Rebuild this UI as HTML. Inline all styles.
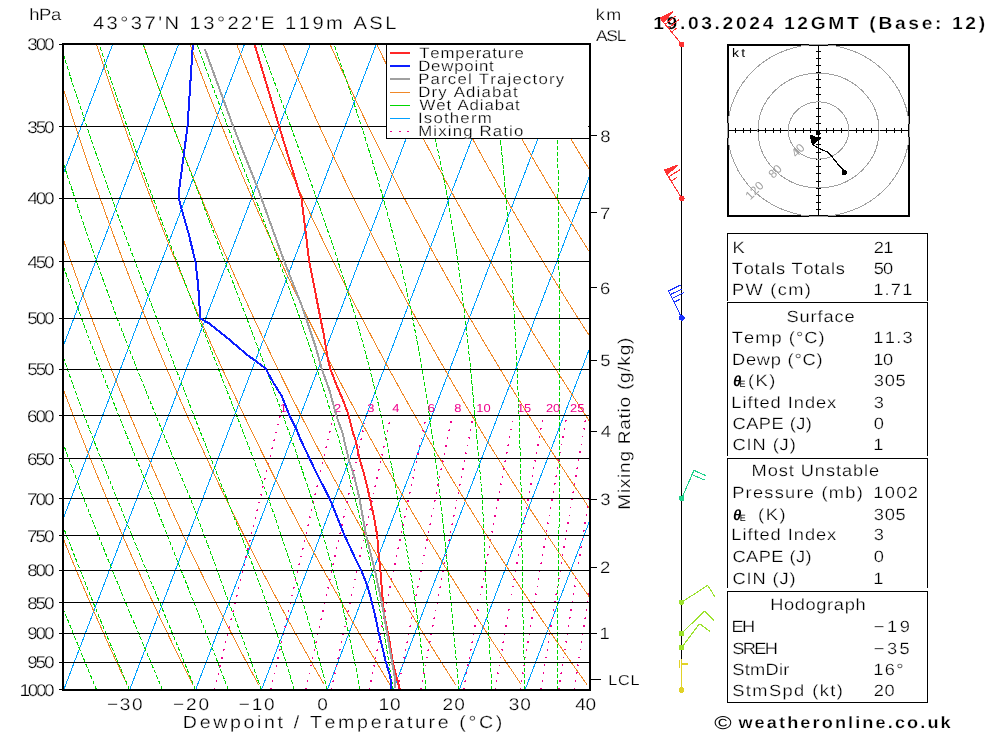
<!DOCTYPE html><html><head><meta charset="utf-8"><style>html,body{margin:0;padding:0;background:#fff;overflow:hidden}svg{display:block;font-kerning:none;text-rendering:geometricPrecision} text[fill="#000"]{stroke:#fff;stroke-width:0.25px}</style></head><body><svg width="1000" height="733" viewBox="0 0 1000 733" shape-rendering="crispEdges" font-family="'Liberation Sans', Arial, sans-serif">
<rect width="1000" height="733" fill="#fff"/>
<defs><clipPath id="pc"><rect x="63" y="44" width="527" height="646"/></clipPath></defs>
<g clip-path="url(#pc)" fill="none" shape-rendering="crispEdges">
<g stroke="#00A0FF" stroke-width="1">
<line x1="-397.6" y1="690" x2="-150.83" y2="44"/>
<line x1="-331.7" y1="690" x2="-84.93" y2="44"/>
<line x1="-265.8" y1="690" x2="-19.03" y2="44"/>
<line x1="-199.9" y1="690" x2="46.87" y2="44"/>
<line x1="-134" y1="690" x2="112.77" y2="44"/>
<line x1="-68.1" y1="690" x2="178.67" y2="44"/>
<line x1="-2.2" y1="690" x2="244.57" y2="44"/>
<line x1="63.7" y1="690" x2="310.47" y2="44"/>
<line x1="129.6" y1="690" x2="376.37" y2="44"/>
<line x1="195.5" y1="690" x2="442.27" y2="44"/>
<line x1="261.4" y1="690" x2="508.17" y2="44"/>
<line x1="327.3" y1="690" x2="574.07" y2="44"/>
<line x1="393.2" y1="690" x2="639.97" y2="44"/>
<line x1="459.1" y1="690" x2="705.87" y2="44"/>
<line x1="525" y1="690" x2="771.77" y2="44"/>
<line x1="590.9" y1="690" x2="837.67" y2="44"/>
</g>
<g stroke="#F08828" stroke-width="1">
<polyline points="-70.07,684.61 -72.05,679.16 -74.04,673.66 -76.04,668.1 -78.04,662.48 -80.06,656.8 -82.08,651.06 -84.11,645.26 -86.15,639.4 -88.2,633.47 -90.26,627.47 -92.33,621.41 -94.4,615.28 -96.49,609.07 -98.58,602.8 -100.69,596.45 -102.8,590.02 -104.93,583.52 -107.06,576.94 -109.21,570.27 -111.36,563.52 -113.53,556.69 -115.7,549.76 -117.88,542.75 -120.08,535.64 -122.29,528.44 -124.5,521.14 -126.73,513.74 -128.97,506.23 -131.22,498.62 -133.48,490.9 -135.75,483.07 -138.03,475.12 -140.32,467.05 -142.63,458.86 -144.94,450.54 -147.27,442.09 -149.61,433.51 -151.96,424.78 -154.33,415.91 -156.7,406.89 -159.09,397.72 -161.49,388.39 -163.9,378.89 -166.32,369.23 -168.76,359.38 -171.21,349.35 -173.67,339.13 -176.14,328.71 -178.62,318.09 -181.12,307.25 -183.63,296.18 -186.15,284.89 -188.68,273.35 -191.23,261.56 -193.78,249.5 -196.35,237.16 -198.93,224.54 -201.52,211.61 -204.11,198.36 -206.72,184.77 -209.34,170.84 -211.97,156.53 -214.6,141.83 -217.24,126.71 -219.89,111.16 -222.55,95.14 -225.2,78.63 -227.86,61.59 -230.52,44"/>
<polyline points="-4.36,684.61 -6.53,679.16 -8.71,673.66 -10.9,668.1 -13.1,662.48 -15.31,656.8 -17.53,651.06 -19.76,645.26 -22,639.4 -24.26,633.47 -26.52,627.47 -28.79,621.41 -31.08,615.28 -33.37,609.07 -35.68,602.8 -37.99,596.45 -40.32,590.02 -42.66,583.52 -45.02,576.94 -47.38,570.27 -49.76,563.52 -52.15,556.69 -54.55,549.76 -56.96,542.75 -59.38,535.64 -61.82,528.44 -64.27,521.14 -66.74,513.74 -69.22,506.23 -71.71,498.62 -74.21,490.9 -76.73,483.07 -79.26,475.12 -81.81,467.05 -84.37,458.86 -86.94,450.54 -89.53,442.09 -92.13,433.51 -94.75,424.78 -97.38,415.91 -100.03,406.89 -102.7,397.72 -105.38,388.39 -108.07,378.89 -110.78,369.23 -113.51,359.38 -116.25,349.35 -119.01,339.13 -121.78,328.71 -124.58,318.09 -127.38,307.25 -130.21,296.18 -133.05,284.89 -135.91,273.35 -138.78,261.56 -141.67,249.5 -144.58,237.16 -147.51,224.54 -150.45,211.61 -153.41,198.36 -156.38,184.77 -159.37,170.84 -162.38,156.53 -165.4,141.83 -168.44,126.71 -171.49,111.16 -174.55,95.14 -177.63,78.63 -180.72,61.59 -183.82,44"/>
<polyline points="61.35,684.61 58.99,679.16 56.62,673.66 54.23,668.1 51.84,662.48 49.43,656.8 47.01,651.06 44.58,645.26 42.14,639.4 39.69,633.47 37.22,627.47 34.74,621.41 32.25,615.28 29.75,609.07 27.23,602.8 24.7,596.45 22.16,590.02 19.6,583.52 17.03,576.94 14.44,570.27 11.85,563.52 9.23,556.69 6.61,549.76 3.97,542.75 1.31,535.64 -1.36,528.44 -4.05,521.14 -6.75,513.74 -9.47,506.23 -12.2,498.62 -14.95,490.9 -17.71,483.07 -20.49,475.12 -23.29,467.05 -26.11,458.86 -28.94,450.54 -31.79,442.09 -34.65,433.51 -37.54,424.78 -40.44,415.91 -43.36,406.89 -46.3,397.72 -49.26,388.39 -52.24,378.89 -55.24,369.23 -58.26,359.38 -61.29,349.35 -64.35,339.13 -67.43,328.71 -70.53,318.09 -73.65,307.25 -76.79,296.18 -79.95,284.89 -83.13,273.35 -86.34,261.56 -89.56,249.5 -92.81,237.16 -96.09,224.54 -99.38,211.61 -102.7,198.36 -106.04,184.77 -109.4,170.84 -112.79,156.53 -116.2,141.83 -119.63,126.71 -123.08,111.16 -126.56,95.14 -130.06,78.63 -133.57,61.59 -137.11,44"/>
<polyline points="127.06,684.61 124.51,679.16 121.95,673.66 119.37,668.1 116.78,662.48 114.18,656.8 111.56,651.06 108.93,645.26 106.29,639.4 103.63,633.47 100.96,627.47 98.28,621.41 95.58,615.28 92.86,609.07 90.14,602.8 87.39,596.45 84.64,590.02 81.86,583.52 79.07,576.94 76.27,570.27 73.45,563.52 70.61,556.69 67.76,549.76 64.89,542.75 62.01,535.64 59.1,528.44 56.18,521.14 53.24,513.74 50.29,506.23 47.31,498.62 44.32,490.9 41.31,483.07 38.28,475.12 35.23,467.05 32.16,458.86 29.07,450.54 25.96,442.09 22.82,433.51 19.67,424.78 16.5,415.91 13.31,406.89 10.09,397.72 6.85,388.39 3.59,378.89 0.3,369.23 -3,359.38 -6.34,349.35 -9.69,339.13 -13.07,328.71 -16.48,318.09 -19.91,307.25 -23.36,296.18 -26.85,284.89 -30.36,273.35 -33.89,261.56 -37.46,249.5 -41.05,237.16 -44.67,224.54 -48.31,211.61 -51.99,198.36 -55.7,184.77 -59.43,170.84 -63.2,156.53 -67,141.83 -70.82,126.71 -74.68,111.16 -78.57,95.14 -82.48,78.63 -86.43,61.59 -90.41,44"/>
<polyline points="192.77,684.61 190.03,679.16 187.27,673.66 184.5,668.1 181.72,662.48 178.92,656.8 176.11,651.06 173.28,645.26 170.43,639.4 167.58,633.47 164.7,627.47 161.81,621.41 158.9,615.28 155.98,609.07 153.04,602.8 150.09,596.45 147.12,590.02 144.13,583.52 141.12,576.94 138.1,570.27 135.05,563.52 131.99,556.69 128.91,549.76 125.82,542.75 122.7,535.64 119.56,528.44 116.41,521.14 113.23,513.74 110.04,506.23 106.82,498.62 103.58,490.9 100.32,483.07 97.04,475.12 93.74,467.05 90.42,458.86 87.07,450.54 83.7,442.09 80.3,433.51 76.89,424.78 73.44,415.91 69.98,406.89 66.48,397.72 62.96,388.39 59.42,378.89 55.85,369.23 52.25,359.38 48.62,349.35 44.97,339.13 41.29,328.71 37.57,318.09 33.83,307.25 30.06,296.18 26.25,284.89 22.42,273.35 18.55,261.56 14.65,249.5 10.72,237.16 6.75,224.54 2.75,211.61 -1.28,198.36 -5.36,184.77 -9.46,170.84 -13.61,156.53 -17.79,141.83 -22.01,126.71 -26.27,111.16 -30.57,95.14 -34.91,78.63 -39.29,61.59 -43.71,44"/>
<polyline points="258.48,684.61 255.55,679.16 252.6,673.66 249.64,668.1 246.66,662.48 243.66,656.8 240.65,651.06 237.62,645.26 234.58,639.4 231.52,633.47 228.44,627.47 225.34,621.41 222.23,615.28 219.1,609.07 215.95,602.8 212.78,596.45 209.6,590.02 206.39,583.52 203.17,576.94 199.92,570.27 196.66,563.52 193.37,556.69 190.07,549.76 186.74,542.75 183.4,535.64 180.03,528.44 176.64,521.14 173.22,513.74 169.79,506.23 166.33,498.62 162.85,490.9 159.34,483.07 155.81,475.12 152.26,467.05 148.68,458.86 145.07,450.54 141.44,442.09 137.78,433.51 134.1,424.78 130.39,415.91 126.64,406.89 122.88,397.72 119.08,388.39 115.25,378.89 111.39,369.23 107.5,359.38 103.58,349.35 99.63,339.13 95.64,328.71 91.62,318.09 87.57,307.25 83.48,296.18 79.36,284.89 75.2,273.35 71,261.56 66.76,249.5 62.49,237.16 58.17,224.54 53.82,211.61 49.42,198.36 44.99,184.77 40.51,170.84 35.98,156.53 31.41,141.83 26.79,126.71 22.13,111.16 17.42,95.14 12.66,78.63 7.85,61.59 3,44"/>
<polyline points="324.19,684.61 321.07,679.16 317.93,673.66 314.77,668.1 311.6,662.48 308.41,656.8 305.2,651.06 301.97,645.26 298.73,639.4 295.46,633.47 292.18,627.47 288.88,621.41 285.56,615.28 282.22,609.07 278.86,602.8 275.48,596.45 272.08,590.02 268.65,583.52 265.21,576.94 261.75,570.27 258.26,563.52 254.75,556.69 251.22,549.76 247.67,542.75 244.09,535.64 240.49,528.44 236.86,521.14 233.21,513.74 229.54,506.23 225.84,498.62 222.11,490.9 218.36,483.07 214.58,475.12 210.77,467.05 206.94,458.86 203.08,450.54 199.18,442.09 195.26,433.51 191.31,424.78 187.33,415.91 183.31,406.89 179.27,397.72 175.19,388.39 171.08,378.89 166.93,369.23 162.75,359.38 158.54,349.35 154.29,339.13 150,328.71 145.67,318.09 141.31,307.25 136.9,296.18 132.46,284.89 127.97,273.35 123.44,261.56 118.87,249.5 114.26,237.16 109.59,224.54 104.89,211.61 100.13,198.36 95.33,184.77 90.47,170.84 85.57,156.53 80.61,141.83 75.6,126.71 70.54,111.16 65.41,95.14 60.24,78.63 55,61.59 49.7,44"/>
<polyline points="389.9,684.61 386.59,679.16 383.26,673.66 379.91,668.1 376.54,662.48 373.15,656.8 369.75,651.06 366.32,645.26 362.87,639.4 359.41,633.47 355.92,627.47 352.41,621.41 348.89,615.28 345.34,609.07 341.76,602.8 338.17,596.45 334.56,590.02 330.92,583.52 327.26,576.94 323.57,570.27 319.86,563.52 316.13,556.69 312.38,549.76 308.59,542.75 304.79,535.64 300.95,528.44 297.09,521.14 293.2,513.74 289.29,506.23 285.35,498.62 281.38,490.9 277.38,483.07 273.35,475.12 269.29,467.05 265.2,458.86 261.08,450.54 256.93,442.09 252.74,433.51 248.52,424.78 244.27,415.91 239.98,406.89 235.66,397.72 231.3,388.39 226.91,378.89 222.48,369.23 218.01,359.38 213.5,349.35 208.95,339.13 204.35,328.71 199.72,318.09 195.04,307.25 190.32,296.18 185.56,284.89 180.75,273.35 175.89,261.56 170.98,249.5 166.02,237.16 161.01,224.54 155.95,211.61 150.84,198.36 145.67,184.77 140.44,170.84 135.16,156.53 129.82,141.83 124.41,126.71 118.94,111.16 113.41,95.14 107.81,78.63 102.14,61.59 96.4,44"/>
<polyline points="455.62,684.61 452.11,679.16 448.59,673.66 445.04,668.1 441.48,662.48 437.9,656.8 434.29,651.06 430.67,645.26 427.02,639.4 423.35,633.47 419.66,627.47 415.95,621.41 412.21,615.28 408.45,609.07 404.67,602.8 400.87,596.45 397.04,590.02 393.18,583.52 389.3,576.94 385.4,570.27 381.47,563.52 377.51,556.69 373.53,549.76 369.52,542.75 365.48,535.64 361.41,528.44 357.32,521.14 353.19,513.74 349.04,506.23 344.86,498.62 340.64,490.9 336.4,483.07 332.12,475.12 327.81,467.05 323.46,458.86 319.08,450.54 314.67,442.09 310.22,433.51 305.73,424.78 301.21,415.91 296.65,406.89 292.05,397.72 287.42,388.39 282.74,378.89 278.02,369.23 273.26,359.38 268.45,349.35 263.6,339.13 258.71,328.71 253.77,318.09 248.78,307.25 243.75,296.18 238.66,284.89 233.52,273.35 228.33,261.56 223.09,249.5 217.79,237.16 212.44,224.54 207.02,211.61 201.55,198.36 196.01,184.77 190.41,170.84 184.75,156.53 179.02,141.83 173.22,126.71 167.35,111.16 161.4,95.14 155.38,78.63 149.28,61.59 143.1,44"/>
<polyline points="521.33,684.61 517.63,679.16 513.92,673.66 510.18,668.1 506.42,662.48 502.64,656.8 498.84,651.06 495.01,645.26 491.17,639.4 487.29,633.47 483.4,627.47 479.48,621.41 475.54,615.28 471.57,609.07 467.58,602.8 463.56,596.45 459.52,590.02 455.45,583.52 451.35,576.94 447.22,570.27 443.07,563.52 438.89,556.69 434.68,549.76 430.44,542.75 426.18,535.64 421.88,528.44 417.55,521.14 413.19,513.74 408.79,506.23 404.37,498.62 399.91,490.9 395.41,483.07 390.88,475.12 386.32,467.05 381.72,458.86 377.09,450.54 372.41,442.09 367.7,433.51 362.95,424.78 358.16,415.91 353.32,406.89 348.45,397.72 343.53,388.39 338.57,378.89 333.56,369.23 328.51,359.38 323.41,349.35 318.26,339.13 313.07,328.71 307.82,318.09 302.52,307.25 297.17,296.18 291.76,284.89 286.3,273.35 280.78,261.56 275.2,249.5 269.56,237.16 263.86,224.54 258.09,211.61 252.26,198.36 246.35,184.77 240.38,170.84 234.34,156.53 228.22,141.83 222.03,126.71 215.75,111.16 209.39,95.14 202.95,78.63 196.43,61.59 189.81,44"/>
<polyline points="587.04,684.61 583.15,679.16 579.24,673.66 575.31,668.1 571.36,662.48 567.38,656.8 563.38,651.06 559.36,645.26 555.31,639.4 551.24,633.47 547.14,627.47 543.02,621.41 538.87,615.28 534.69,609.07 530.49,602.8 526.26,596.45 522,590.02 517.71,583.52 513.39,576.94 509.05,570.27 504.68,563.52 500.27,556.69 495.84,549.76 491.37,542.75 486.87,535.64 482.34,528.44 477.77,521.14 473.18,513.74 468.54,506.23 463.88,498.62 459.17,490.9 454.43,483.07 449.65,475.12 444.84,467.05 439.98,458.86 435.09,450.54 430.15,442.09 425.18,433.51 420.16,424.78 415.1,415.91 409.99,406.89 404.84,397.72 399.64,388.39 394.4,378.89 389.11,369.23 383.76,359.38 378.37,349.35 372.92,339.13 367.42,328.71 361.87,318.09 356.26,307.25 350.59,296.18 344.86,284.89 339.07,273.35 333.22,261.56 327.31,249.5 321.33,237.16 315.28,224.54 309.16,211.61 302.96,198.36 296.7,184.77 290.35,170.84 283.93,156.53 277.42,141.83 270.83,126.71 264.16,111.16 257.39,95.14 250.53,78.63 243.57,61.59 236.51,44"/>
<polyline points="652.75,684.61 648.67,679.16 644.57,673.66 640.45,668.1 636.3,662.48 632.13,656.8 627.93,651.06 623.71,645.26 619.46,639.4 615.18,633.47 610.88,627.47 606.55,621.41 602.19,615.28 597.81,609.07 593.39,602.8 588.95,596.45 584.48,590.02 579.97,583.52 575.44,576.94 570.88,570.27 566.28,563.52 561.65,556.69 556.99,549.76 552.29,542.75 547.57,535.64 542.8,528.44 538,521.14 533.17,513.74 528.29,506.23 523.38,498.62 518.44,490.9 513.45,483.07 508.42,475.12 503.35,467.05 498.24,458.86 493.09,450.54 487.9,442.09 482.66,433.51 477.37,424.78 472.04,415.91 466.66,406.89 461.23,397.72 455.76,388.39 450.23,378.89 444.65,369.23 439.01,359.38 433.33,349.35 427.58,339.13 421.78,328.71 415.92,318.09 410,307.25 404.01,296.18 397.96,284.89 391.85,273.35 385.67,261.56 379.42,249.5 373.09,237.16 366.7,224.54 360.22,211.61 353.67,198.36 347.04,184.77 340.32,170.84 333.52,156.53 326.63,141.83 319.64,126.71 312.56,111.16 305.38,95.14 298.1,78.63 290.71,61.59 283.21,44"/>
<polyline points="718.46,684.61 714.19,679.16 709.9,673.66 705.58,668.1 701.24,662.48 696.87,656.8 692.48,651.06 688.05,645.26 683.6,639.4 679.13,633.47 674.62,627.47 670.08,621.41 665.52,615.28 660.92,609.07 656.3,602.8 651.64,596.45 646.96,590.02 642.24,583.52 637.49,576.94 632.7,570.27 627.88,563.52 623.03,556.69 618.14,549.76 613.22,542.75 608.26,535.64 603.26,528.44 598.23,521.14 593.16,513.74 588.05,506.23 582.89,498.62 577.7,490.9 572.47,483.07 567.19,475.12 561.87,467.05 556.51,458.86 551.1,450.54 545.64,442.09 540.14,433.51 534.58,424.78 528.98,415.91 523.33,406.89 517.63,397.72 511.87,388.39 506.06,378.89 500.19,369.23 494.27,359.38 488.28,349.35 482.24,339.13 476.14,328.71 469.97,318.09 463.73,307.25 457.43,296.18 451.07,284.89 444.63,273.35 438.11,261.56 431.53,249.5 424.86,237.16 418.12,224.54 411.29,211.61 404.38,198.36 397.38,184.77 390.29,170.84 383.11,156.53 375.83,141.83 368.45,126.71 360.97,111.16 353.37,95.14 345.67,78.63 337.85,61.59 329.91,44"/>
<polyline points="784.17,684.61 779.71,679.16 775.23,673.66 770.72,668.1 766.18,662.48 761.62,656.8 757.02,651.06 752.4,645.26 747.75,639.4 743.07,633.47 738.36,627.47 733.62,621.41 728.85,615.28 724.04,609.07 719.21,602.8 714.34,596.45 709.44,590.02 704.5,583.52 699.53,576.94 694.53,570.27 689.49,563.52 684.41,556.69 679.3,549.76 674.15,542.75 668.96,535.64 663.73,528.44 658.46,521.14 653.15,513.74 647.8,506.23 642.4,498.62 636.97,490.9 631.48,483.07 625.96,475.12 620.39,467.05 614.77,458.86 609.1,450.54 603.38,442.09 597.61,433.51 591.8,424.78 585.93,415.91 580,406.89 574.02,397.72 567.98,388.39 561.89,378.89 555.73,369.23 549.52,359.38 543.24,349.35 536.9,339.13 530.49,328.71 524.02,318.09 517.47,307.25 510.86,296.18 504.17,284.89 497.4,273.35 490.56,261.56 483.63,249.5 476.63,237.16 469.54,224.54 462.36,211.61 455.09,198.36 447.72,184.77 440.26,170.84 432.7,156.53 425.03,141.83 417.26,126.71 409.37,111.16 401.37,95.14 393.24,78.63 385,61.59 376.62,44"/>
<polyline points="849.88,684.61 845.23,679.16 840.56,673.66 835.85,668.1 831.12,662.48 826.36,656.8 821.57,651.06 816.75,645.26 811.9,639.4 807.01,633.47 802.1,627.47 797.15,621.41 792.17,615.28 787.16,609.07 782.11,602.8 777.03,596.45 771.92,590.02 766.77,583.52 761.58,576.94 756.35,570.27 751.09,563.52 745.79,556.69 740.45,549.76 735.07,542.75 729.65,535.64 724.19,528.44 718.68,521.14 713.14,513.74 707.55,506.23 701.91,498.62 696.23,490.9 690.5,483.07 684.73,475.12 678.9,467.05 673.03,458.86 667.1,450.54 661.12,442.09 655.09,433.51 649.01,424.78 642.87,415.91 636.67,406.89 630.41,397.72 624.1,388.39 617.72,378.89 611.28,369.23 604.77,359.38 598.2,349.35 591.56,339.13 584.85,328.71 578.07,318.09 571.21,307.25 564.28,296.18 557.27,284.89 550.18,273.35 543,261.56 535.74,249.5 528.4,237.16 520.96,224.54 513.42,211.61 505.79,198.36 498.06,184.77 490.23,170.84 482.29,156.53 474.23,141.83 466.06,126.71 457.77,111.16 449.36,95.14 440.82,78.63 432.14,61.59 423.32,44"/>
<polyline points="915.59,684.61 910.75,679.16 905.89,673.66 900.99,668.1 896.06,662.48 891.1,656.8 886.12,651.06 881.1,645.26 876.04,639.4 870.96,633.47 865.84,627.47 860.69,621.41 855.5,615.28 850.28,609.07 845.02,602.8 839.73,596.45 834.4,590.02 829.03,583.52 823.62,576.94 818.18,570.27 812.69,563.52 807.17,556.69 801.6,549.76 796,542.75 790.35,535.64 784.65,528.44 778.91,521.14 773.13,513.74 767.3,506.23 761.42,498.62 755.49,490.9 749.52,483.07 743.49,475.12 737.42,467.05 731.29,458.86 725.11,450.54 718.87,442.09 712.57,433.51 706.22,424.78 699.81,415.91 693.34,406.89 686.81,397.72 680.21,388.39 673.55,378.89 666.82,369.23 660.02,359.38 653.16,349.35 646.22,339.13 639.21,328.71 632.12,318.09 624.95,307.25 617.7,296.18 610.37,284.89 602.95,273.35 595.45,261.56 587.85,249.5 580.16,237.16 572.38,224.54 564.49,211.61 556.5,198.36 548.41,184.77 540.2,170.84 531.88,156.53 523.44,141.83 514.87,126.71 506.18,111.16 497.35,95.14 488.39,78.63 479.28,61.59 470.02,44"/>
<polyline points="981.3,684.61 976.27,679.16 971.21,673.66 966.12,668.1 961,662.48 955.85,656.8 950.66,651.06 945.44,645.26 940.19,639.4 934.9,633.47 929.58,627.47 924.22,621.41 918.83,615.28 913.4,609.07 907.93,602.8 902.42,596.45 896.88,590.02 891.29,583.52 885.67,576.94 880,570.27 874.3,563.52 868.55,556.69 862.76,549.76 856.92,542.75 851.04,535.64 845.11,528.44 839.14,521.14 833.12,513.74 827.05,506.23 820.93,498.62 814.76,490.9 808.54,483.07 802.26,475.12 795.93,467.05 789.55,458.86 783.11,450.54 776.61,442.09 770.05,433.51 763.43,424.78 756.75,415.91 750.01,406.89 743.2,397.72 736.32,388.39 729.38,378.89 722.36,369.23 715.28,359.38 708.11,349.35 700.88,339.13 693.56,328.71 686.17,318.09 678.69,307.25 671.12,296.18 663.47,284.89 655.73,273.35 647.89,261.56 639.96,249.5 631.93,237.16 623.8,224.54 615.56,211.61 607.21,198.36 598.75,184.77 590.17,170.84 581.47,156.53 572.64,141.83 563.68,126.71 554.58,111.16 545.35,95.14 535.96,78.63 526.42,61.59 516.73,44"/>
<polyline points="1047.01,684.61 1041.79,679.16 1036.54,673.66 1031.26,668.1 1025.94,662.48 1020.59,656.8 1015.21,651.06 1009.79,645.26 1004.34,639.4 998.85,633.47 993.32,627.47 987.76,621.41 982.15,615.28 976.51,609.07 970.84,602.8 965.12,596.45 959.36,590.02 953.56,583.52 947.72,576.94 941.83,570.27 935.9,563.52 929.93,556.69 923.91,549.76 917.85,542.75 911.74,535.64 905.58,528.44 899.37,521.14 893.11,513.74 886.8,506.23 880.44,498.62 874.02,490.9 867.56,483.07 861.03,475.12 854.45,467.05 847.81,458.86 841.11,450.54 834.35,442.09 827.53,433.51 820.65,424.78 813.7,415.91 806.68,406.89 799.59,397.72 792.44,388.39 785.21,378.89 777.91,369.23 770.53,359.38 763.07,349.35 755.54,339.13 747.92,328.71 740.21,318.09 732.42,307.25 724.54,296.18 716.57,284.89 708.5,273.35 700.34,261.56 692.07,249.5 683.7,237.16 675.22,224.54 666.63,211.61 657.92,198.36 649.09,184.77 640.14,170.84 631.06,156.53 621.84,141.83 612.49,126.71 602.99,111.16 593.34,95.14 583.54,78.63 573.57,61.59 563.43,44"/>
<polyline points="1112.72,684.61 1107.31,679.16 1101.87,673.66 1096.39,668.1 1090.88,662.48 1085.34,656.8 1079.75,651.06 1074.14,645.26 1068.48,639.4 1062.79,633.47 1057.06,627.47 1051.29,621.41 1045.48,615.28 1039.63,609.07 1033.74,602.8 1027.81,596.45 1021.84,590.02 1015.82,583.52 1009.76,576.94 1003.66,570.27 997.51,563.52 991.31,556.69 985.06,549.76 978.77,542.75 972.43,535.64 966.04,528.44 959.6,521.14 953.1,513.74 946.55,506.23 939.95,498.62 933.29,490.9 926.57,483.07 919.8,475.12 912.97,467.05 906.07,458.86 899.12,450.54 892.1,442.09 885.01,433.51 877.86,424.78 870.64,415.91 863.35,406.89 855.99,397.72 848.55,388.39 841.04,378.89 833.45,369.23 825.78,359.38 818.03,349.35 810.2,339.13 802.27,328.71 794.26,318.09 786.16,307.25 777.97,296.18 769.67,284.89 761.28,273.35 752.78,261.56 744.18,249.5 735.47,237.16 726.64,224.54 717.69,211.61 708.63,198.36 699.43,184.77 690.11,170.84 680.65,156.53 671.04,141.83 661.3,126.71 651.39,111.16 641.33,95.14 631.11,78.63 620.71,61.59 610.13,44"/>
<polyline points="1178.43,684.61 1172.83,679.16 1167.2,673.66 1161.53,668.1 1155.82,662.48 1150.08,656.8 1144.3,651.06 1138.48,645.26 1132.63,639.4 1126.73,633.47 1120.8,627.47 1114.82,621.41 1108.81,615.28 1102.75,609.07 1096.65,602.8 1090.51,596.45 1084.32,590.02 1078.09,583.52 1071.81,576.94 1065.48,570.27 1059.11,563.52 1052.69,556.69 1046.22,549.76 1039.7,542.75 1033.13,535.64 1026.5,528.44 1019.82,521.14 1013.09,513.74 1006.3,506.23 999.46,498.62 992.55,490.9 985.59,483.07 978.57,475.12 971.48,467.05 964.33,458.86 957.12,450.54 949.84,442.09 942.49,433.51 935.07,424.78 927.58,415.91 920.02,406.89 912.38,397.72 904.66,388.39 896.87,378.89 888.99,369.23 881.03,359.38 872.99,349.35 864.85,339.13 856.63,328.71 848.31,318.09 839.9,307.25 831.39,296.18 822.77,284.89 814.06,273.35 805.23,261.56 796.29,249.5 787.23,237.16 778.06,224.54 768.76,211.61 759.33,198.36 749.77,184.77 740.08,170.84 730.24,156.53 720.25,141.83 710.1,126.71 699.8,111.16 689.33,95.14 678.68,78.63 667.85,61.59 656.83,44"/>
<polyline points="1244.15,684.61 1238.35,679.16 1232.53,673.66 1226.66,668.1 1220.76,662.48 1214.82,656.8 1208.85,651.06 1202.83,645.26 1196.77,639.4 1190.68,633.47 1184.54,627.47 1178.36,621.41 1172.13,615.28 1165.87,609.07 1159.56,602.8 1153.2,596.45 1146.8,590.02 1140.35,583.52 1133.85,576.94 1127.31,570.27 1120.71,563.52 1114.07,556.69 1107.37,549.76 1100.62,542.75 1093.82,535.64 1086.96,528.44 1080.05,521.14 1073.08,513.74 1066.05,506.23 1058.97,498.62 1051.82,490.9 1044.61,483.07 1037.34,475.12 1030,467.05 1022.59,458.86 1015.12,450.54 1007.58,442.09 999.97,433.51 992.28,424.78 984.52,415.91 976.69,406.89 968.77,397.72 960.78,388.39 952.7,378.89 944.54,369.23 936.28,359.38 927.95,349.35 919.51,339.13 910.99,328.71 902.36,318.09 893.64,307.25 884.81,296.18 875.88,284.89 866.83,273.35 857.67,261.56 848.4,249.5 839,237.16 829.48,224.54 819.83,211.61 810.04,198.36 800.12,184.77 790.04,170.84 779.82,156.53 769.45,141.83 758.91,126.71 748.2,111.16 737.32,95.14 726.25,78.63 715,61.59 703.54,44"/>
<polyline points="1309.86,684.61 1303.88,679.16 1297.86,673.66 1291.8,668.1 1285.7,662.48 1279.57,656.8 1273.39,651.06 1267.18,645.26 1260.92,639.4 1254.62,633.47 1248.28,627.47 1241.89,621.41 1235.46,615.28 1228.99,609.07 1222.46,602.8 1215.89,596.45 1209.28,590.02 1202.61,583.52 1195.9,576.94 1189.13,570.27 1182.32,563.52 1175.45,556.69 1168.53,549.76 1161.55,542.75 1154.52,535.64 1147.43,528.44 1140.28,521.14 1133.07,513.74 1125.8,506.23 1118.48,498.62 1111.08,490.9 1103.63,483.07 1096.1,475.12 1088.51,467.05 1080.86,458.86 1073.13,450.54 1065.32,442.09 1057.45,433.51 1049.5,424.78 1041.47,415.91 1033.36,406.89 1025.16,397.72 1016.89,388.39 1008.53,378.89 1000.08,369.23 991.54,359.38 982.9,349.35 974.17,339.13 965.34,328.71 956.41,318.09 947.38,307.25 938.23,296.18 928.98,284.89 919.61,273.35 910.12,261.56 900.51,249.5 890.77,237.16 880.9,224.54 870.89,211.61 860.75,198.36 850.46,184.77 840.01,170.84 829.41,156.53 818.65,141.83 807.72,126.71 796.61,111.16 785.31,95.14 773.83,78.63 762.14,61.59 750.24,44"/>
</g>
<g stroke="#00D700" stroke-width="1" stroke-dasharray="4.3,1.7">
<polyline points="96.65,690 94.4,684.61 92.13,679.16 89.84,673.66 87.53,668.1 85.21,662.48 82.86,656.8 80.49,651.06 78.11,645.26 75.7,639.4 73.28,633.47 70.83,627.47 68.37,621.41 65.88,615.28 63.38,609.07 60.86,602.8 58.38,596.45 55.88,590.02 53.36,583.52 50.82,576.94 48.26,570.27 45.68,563.52 43.08,556.69 40.45,549.76 37.81,542.75 35.14,535.64 32.45,528.44 29.74,521.14 27.01,513.74 24.26,506.23 21.48,498.62 18.68,490.9 15.86,483.07 13.02,475.12 10.15,467.05 7.26,458.86 4.35,450.54 1.41,442.09 -1.55,433.51 -4.53,424.78 -7.54,415.91 -10.58,406.89 -13.63,397.72 -16.72,388.39 -19.75,378.89 -22.88,369.23 -26.03,359.38 -29.2,349.35 -32.41,339.13 -35.63,328.71 -38.88,318.09 -42.16,307.25 -45.47,296.18 -48.8,284.89 -52.15,273.35 -55.54,261.56 -58.95,249.5 -62.38,237.16 -65.85,224.54 -69.34,211.61 -72.86,198.36 -76.31,184.77 -79.78,170.84 -83.28,156.53 -86.81,141.83 -90.37,126.71 -93.96,111.16 -97.57,95.14 -101.21,78.63 -104.88,61.59 -108.58,44"/>
<polyline points="129.6,690 127.34,684.61 125.05,679.16 122.74,673.66 120.41,668.1 118.06,662.48 115.69,656.8 113.29,651.06 110.87,645.26 108.43,639.4 105.97,633.47 103.48,627.47 100.98,621.41 98.45,615.28 95.89,609.07 93.32,602.8 90.75,596.45 88.17,590.02 85.55,583.52 82.92,576.94 80.26,570.27 77.58,563.52 74.88,556.69 72.15,549.76 69.39,542.75 66.62,535.64 63.82,528.44 60.99,521.14 58.14,513.74 55.27,506.23 52.37,498.62 49.47,490.9 46.56,483.07 43.61,475.12 40.65,467.05 37.65,458.86 34.63,450.54 31.58,442.09 28.51,433.51 25.41,424.78 22.28,415.91 19.17,406.89 16.1,397.72 12.94,388.39 9.76,378.89 6.55,369.23 3.31,359.38 0.04,349.35 -3.25,339.13 -6.58,328.71 -9.93,318.09 -13.36,307.25 -16.83,296.18 -20.32,284.89 -23.84,273.35 -27.39,261.56 -30.97,249.5 -34.59,237.16 -38.23,224.54 -41.91,211.61 -45.62,198.36 -49.25,184.77 -52.93,170.84 -56.63,156.53 -60.36,141.83 -64.13,126.71 -67.93,111.16 -71.77,95.14 -75.63,78.63 -79.53,61.59 -83.46,44"/>
<polyline points="162.55,690 160.27,684.61 157.97,679.16 155.64,673.66 153.28,668.1 150.9,662.48 148.5,656.8 146.06,651.06 143.61,645.26 141.13,639.4 138.62,633.47 136.09,627.47 133.53,621.41 130.95,615.28 128.34,609.07 125.7,602.8 123.09,596.45 120.46,590.02 117.8,583.52 115.11,576.94 112.39,570.27 109.65,563.52 106.89,556.69 104.09,549.76 101.27,542.75 98.43,535.64 95.55,528.44 92.65,521.14 89.72,513.74 86.76,506.23 83.77,498.62 80.85,490.9 77.89,483.07 74.91,475.12 71.9,467.05 68.86,458.86 65.79,450.54 62.69,442.09 59.56,433.51 56.4,424.78 53.21,415.91 49.99,406.89 46.78,397.72 43.5,388.39 40.19,378.89 36.85,369.23 33.48,359.38 30.07,349.35 26.64,339.13 23.17,328.71 19.66,318.09 16.08,307.25 12.46,296.18 8.81,284.89 5.12,273.35 1.4,261.56 -2.35,249.5 -6.14,237.16 -9.97,224.54 -13.83,211.61 -17.73,198.36 -21.56,184.77 -25.43,170.84 -29.34,156.53 -33.28,141.83 -37.26,126.71 -41.28,111.16 -45.33,95.14 -49.43,78.63 -53.56,61.59 -57.73,44"/>
<polyline points="195.5,690 193.32,684.61 191.12,679.16 188.89,673.66 186.62,668.1 184.33,662.48 182.01,656.8 179.66,651.06 177.29,645.26 174.88,639.4 172.44,633.47 169.98,627.47 167.48,621.41 164.96,615.28 162.4,609.07 159.82,602.8 157.18,596.45 154.5,590.02 151.8,583.52 149.07,576.94 146.31,570.27 143.52,563.52 140.7,556.69 137.85,549.76 134.96,542.75 132.05,535.64 129.1,528.44 126.13,521.14 123.12,513.74 120.08,506.23 117.01,498.62 113.88,490.9 110.73,483.07 107.54,475.12 104.32,467.05 101.07,458.86 97.78,450.54 94.46,442.09 91.11,433.51 87.72,424.78 84.3,415.91 80.99,406.89 77.65,397.72 74.28,388.39 70.86,378.89 67.41,369.23 63.96,359.38 60.44,349.35 56.89,339.13 53.3,328.71 49.67,318.09 45.99,307.25 42.27,296.18 38.5,284.89 34.71,273.35 30.87,261.56 26.99,249.5 23.07,237.16 19.12,224.54 15.12,211.61 11.08,198.36 7.05,184.77 2.98,170.84 -1.13,156.53 -5.29,141.83 -9.49,126.71 -13.73,111.16 -18.01,95.14 -22.34,78.63 -26.71,61.59 -31.13,44"/>
<polyline points="228.45,690 226.38,684.61 224.29,679.16 222.16,673.66 220,668.1 217.8,662.48 215.58,656.8 213.32,651.06 211.02,645.26 208.7,639.4 206.34,633.47 203.94,627.47 201.52,621.41 199.05,615.28 196.56,609.07 194.03,602.8 191.52,596.45 188.98,590.02 186.41,583.52 183.8,576.94 181.15,570.27 178.47,563.52 175.76,556.69 173.01,549.76 170.23,542.75 167.41,535.64 164.55,528.44 161.66,521.14 158.73,513.74 155.77,506.23 152.77,498.62 149.55,490.9 146.29,483.07 143,475.12 139.67,467.05 136.3,458.86 132.9,450.54 129.46,442.09 125.98,433.51 122.46,424.78 118.9,415.91 115.34,406.89 111.75,397.72 108.11,388.39 104.44,378.89 100.72,369.23 96.96,359.38 93.16,349.35 89.32,339.13 85.44,328.71 81.51,318.09 77.68,307.25 73.8,296.18 69.9,284.89 65.94,273.35 61.94,261.56 57.89,249.5 53.8,237.16 49.66,224.54 45.48,211.61 41.24,198.36 37.02,184.77 32.74,170.84 28.42,156.53 24.04,141.83 19.62,126.71 15.15,111.16 10.63,95.14 6.06,78.63 1.43,61.59 -3.24,44"/>
<polyline points="261.4,690 259.49,684.61 257.54,679.16 255.56,673.66 253.55,668.1 251.5,662.48 249.41,656.8 247.28,651.06 245.12,645.26 242.92,639.4 240.68,633.47 238.41,627.47 236.09,621.41 233.74,615.28 231.34,609.07 228.96,602.8 226.68,596.45 224.36,590.02 222,583.52 219.6,576.94 217.16,570.27 214.68,563.52 212.16,556.69 209.59,549.76 206.99,542.75 204.34,535.64 201.65,528.44 198.93,521.14 196.15,513.74 193.34,506.23 190.48,498.62 187.23,490.9 183.94,483.07 180.61,475.12 177.23,467.05 173.81,458.86 170.34,450.54 166.83,442.09 163.28,433.51 159.68,424.78 156.04,415.91 152.35,406.89 148.62,397.72 144.84,388.39 141.01,378.89 137.14,369.23 133.22,359.38 129.25,349.35 125.24,339.13 121.18,328.71 117.07,318.09 113.09,307.25 109.06,296.18 104.95,284.89 100.82,273.35 96.65,261.56 92.42,249.5 88.14,237.16 83.81,224.54 79.42,211.61 74.98,198.36 70.4,184.77 65.77,170.84 61.07,156.53 56.33,141.83 51.52,126.71 46.66,111.16 41.75,95.14 36.77,78.63 31.74,61.59 26.64,44"/>
<polyline points="294.35,690 292.76,684.61 291.14,679.16 289.48,673.66 287.78,668.1 286.05,662.48 284.27,656.8 282.46,651.06 280.61,645.26 278.72,639.4 276.78,633.47 274.86,627.47 272.86,621.41 270.81,615.28 268.72,609.07 266.59,602.8 264.26,596.45 261.89,590.02 259.48,583.52 257.02,576.94 254.52,570.27 251.97,563.52 249.37,556.69 246.72,549.76 244.03,542.75 241.29,535.64 238.5,528.44 235.66,521.14 232.77,513.74 229.83,506.23 226.84,498.62 223.79,490.9 220.69,483.07 217.53,475.12 214.33,467.05 211.08,458.86 207.77,450.54 204.41,442.09 201,433.51 197.53,424.78 194.02,415.91 190.52,406.89 186.98,397.72 183.38,388.39 179.73,378.89 176.02,369.23 172.25,359.38 168.43,349.35 164.56,339.13 160.63,328.71 156.64,318.09 152.43,307.25 148.16,296.18 143.84,284.89 139.45,273.35 135.01,261.56 130.51,249.5 125.94,237.16 121.31,224.54 116.62,211.61 111.87,198.36 107,184.77 102.07,170.84 97.07,156.53 92.01,141.83 86.88,126.71 81.68,111.16 76.42,95.14 71.03,78.63 65.65,61.59 60.2,44"/>
<polyline points="327.3,690 325.92,684.61 324.52,679.16 323.08,673.66 321.6,668.1 320.09,662.48 318.54,656.8 316.95,651.06 315.37,645.26 313.72,639.4 312.03,633.47 310.3,627.47 308.53,621.41 306.72,615.28 304.87,609.07 302.97,602.8 301.02,596.45 299.03,590.02 297,583.52 294.91,576.94 292.78,570.27 290.59,563.52 288.35,556.69 286.06,549.76 283.72,542.75 281.32,535.64 278.87,528.44 276.36,521.14 273.8,513.74 271.17,506.23 268.49,498.62 265.6,490.9 262.65,483.07 259.64,475.12 256.56,467.05 253.43,458.86 250.23,450.54 246.97,442.09 243.64,433.51 240.25,424.78 236.8,415.91 233.28,406.89 229.69,397.72 226.04,388.39 222.32,378.89 218.54,369.23 214.75,359.38 210.83,349.35 206.84,339.13 202.79,328.71 198.66,318.09 194.45,307.25 190.16,296.18 185.8,284.89 181.37,273.35 176.86,261.56 172.29,249.5 167.63,237.16 162.91,224.54 158.1,211.61 153.22,198.36 148.17,184.77 143.04,170.84 137.84,156.53 132.55,141.83 127.18,126.71 121.65,111.16 116.12,95.14 110.51,78.63 104.81,61.59 99.03,44"/>
<polyline points="360.25,690 359.21,684.61 358.15,679.16 357.06,673.66 355.94,668.1 354.79,662.48 353.61,656.8 352.45,651.06 351.22,645.26 349.96,639.4 348.67,633.47 347.34,627.47 345.98,621.41 344.58,615.28 343.15,609.07 341.67,602.8 340.02,596.45 338.33,590.02 336.6,583.52 334.81,576.94 332.99,570.27 331.11,563.52 329.18,556.69 327.2,549.76 325.17,542.75 323.08,535.64 320.93,528.44 318.72,521.14 316.45,513.74 314.12,506.23 311.73,498.62 309.18,490.9 306.57,483.07 303.88,475.12 301.17,467.05 298.35,458.86 295.46,450.54 292.49,442.09 289.44,433.51 286.32,424.78 283.12,415.91 279.85,406.89 276.51,397.72 273.09,388.39 269.58,378.89 265.98,369.23 262.31,359.38 258.54,349.35 254.69,339.13 250.75,328.71 246.72,318.09 242.54,307.25 238.28,296.18 233.92,284.89 229.47,273.35 224.92,261.56 220.29,249.5 215.55,237.16 210.73,224.54 205.8,211.61 200.78,198.36 195.46,184.77 190.05,170.84 184.53,156.53 178.91,141.83 173.18,126.71 167.36,111.16 161.43,95.14 155.39,78.63 149.25,61.59 142.99,44"/>
<polyline points="393.2,690 392.36,684.61 391.5,679.16 390.63,673.66 389.73,668.1 388.82,662.48 387.92,656.8 386.97,651.06 386,645.26 385.02,639.4 384,633.47 382.97,627.47 381.9,621.41 380.81,615.28 379.69,609.07 378.54,602.8 377.29,596.45 376.01,590.02 374.69,583.52 373.33,576.94 371.93,570.27 370.48,563.52 369,556.69 367.46,549.76 365.88,542.75 364.25,535.64 362.56,528.44 360.8,521.14 358.97,513.74 357.09,506.23 355.15,498.62 353.14,490.9 351.07,483.07 348.93,475.12 346.73,467.05 344.45,458.86 342.09,450.54 339.68,442.09 337.17,433.51 334.58,424.78 331.9,415.91 329.15,406.89 326.3,397.72 323.36,388.39 320.33,378.89 317.19,369.23 313.95,359.38 310.61,349.35 307.17,339.13 303.62,328.71 299.95,318.09 296.02,307.25 291.97,296.18 287.8,284.89 283.52,273.35 279.12,261.56 274.59,249.5 269.95,237.16 265.18,224.54 260.29,211.61 255.27,198.36 250.04,184.77 244.68,170.84 239.19,156.53 233.57,141.83 227.81,126.71 221.92,111.16 215.89,95.14 209.72,78.63 203.41,61.59 196.96,44"/>
<polyline points="426.15,690 425.52,684.61 424.89,679.16 424.25,673.66 423.59,668.1 422.92,662.48 422.26,656.8 421.57,651.06 420.87,645.26 420.16,639.4 419.43,633.47 418.68,627.47 417.9,621.41 417.09,615.28 416.26,609.07 415.42,602.8 414.42,596.45 413.4,590.02 412.36,583.52 411.3,576.94 410.22,570.27 409.1,563.52 407.97,556.69 406.8,549.76 405.6,542.75 404.37,535.64 403.1,528.44 401.79,521.14 400.44,513.74 399.05,506.23 397.62,498.62 396.24,490.9 394.82,483.07 393.33,475.12 391.8,467.05 390.19,458.86 388.53,450.54 386.79,442.09 384.98,433.51 383.1,424.78 381.13,415.91 379.05,406.89 376.89,397.72 374.63,388.39 372.27,378.89 369.81,369.23 367.24,359.38 364.56,349.35 361.76,339.13 358.85,328.71 355.81,318.09 352.54,307.25 349.13,296.18 345.58,284.89 341.9,273.35 338.06,261.56 334.07,249.5 329.93,237.16 325.62,224.54 321.16,211.61 316.52,198.36 311.73,184.77 306.77,170.84 301.63,156.53 296.31,141.83 290.81,126.71 285.13,111.16 279.27,95.14 273.21,78.63 266.96,61.59 260.52,44"/>
<polyline points="459.1,690 458.56,684.61 458.02,679.16 457.49,673.66 456.95,668.1 456.41,662.48 455.87,656.8 455.35,651.06 454.82,645.26 454.28,639.4 453.74,633.47 453.2,627.47 452.65,621.41 452.1,615.28 451.54,609.07 450.98,602.8 450.37,596.45 449.75,590.02 449.12,583.52 448.48,576.94 447.82,570.27 447.15,563.52 446.47,556.69 445.77,549.76 445.05,542.75 444.31,535.64 443.55,528.44 442.8,521.14 442,513.74 441.17,506.23 440.31,498.62 439.41,490.9 438.48,483.07 437.51,475.12 436.5,467.05 435.45,458.86 434.35,450.54 433.2,442.09 432,433.51 430.75,424.78 429.43,415.91 428.12,406.89 426.73,397.72 425.27,388.39 423.73,378.89 422.09,369.23 420.4,359.38 418.6,349.35 416.68,339.13 414.67,328.71 412.54,318.09 410.28,307.25 407.9,296.18 405.37,284.89 402.71,273.35 399.89,261.56 396.92,249.5 393.77,237.16 390.45,224.54 386.95,211.61 383.25,198.36 379.35,184.77 375.24,170.84 370.91,156.53 366.36,141.83 361.57,126.71 356.54,111.16 351.3,95.14 345.78,78.63 340,61.59 333.96,44"/>
<polyline points="492.05,690 491.71,684.61 491.37,679.16 491.04,673.66 490.7,668.1 490.35,662.48 490.03,656.8 489.69,651.06 489.36,645.26 489.02,639.4 488.67,633.47 488.33,627.47 487.98,621.41 487.62,615.28 487.29,609.07 486.96,602.8 486.67,596.45 486.39,590.02 486.1,583.52 485.81,576.94 485.52,570.27 485.23,563.52 484.92,556.69 484.62,549.76 484.3,542.75 484.01,535.64 483.69,528.44 483.36,521.14 483.02,513.74 482.67,506.23 482.3,498.62 481.64,490.9 480.97,483.07 480.28,475.12 479.57,467.05 478.84,458.86 478.08,450.54 477.3,442.09 476.49,433.51 475.65,424.78 474.78,415.91 474.03,406.89 473.24,397.72 472.4,388.39 471.52,378.89 470.59,369.23 469.6,359.38 468.56,349.35 467.44,339.13 466.26,328.71 464.99,318.09 463.77,307.25 462.45,296.18 461.03,284.89 459.51,273.35 457.87,261.56 456.12,249.5 454.21,237.16 452.17,224.54 449.98,211.61 447.61,198.36 445,184.77 442.2,170.84 439.18,156.53 435.94,141.83 432.46,126.71 428.72,111.16 424.71,95.14 420.4,78.63 415.77,61.59 410.85,44"/>
<polyline points="525,690 524.83,684.61 524.66,679.16 524.49,673.66 524.33,668.1 524.16,662.48 524,656.8 523.86,651.06 523.71,645.26 523.56,639.4 523.42,633.47 523.27,627.47 523.13,621.41 522.98,615.28 522.84,609.07 522.7,602.8 522.62,596.45 522.54,590.02 522.45,583.52 522.37,576.94 522.28,570.27 522.2,563.52 522.11,556.69 522.01,549.76 521.91,542.75 521.8,535.64 521.71,528.44 521.62,521.14 521.54,513.74 521.46,506.23 521.38,498.62 521.17,490.9 520.95,483.07 520.74,475.12 520.52,467.05 520.3,458.86 520.07,450.54 519.84,442.09 519.6,433.51 519.35,424.78 519.1,415.91 518.72,406.89 518.33,397.72 517.92,388.39 517.5,378.89 517.06,369.23 516.57,359.38 516.08,349.35 515.56,339.13 515.01,328.71 514.43,318.09 513.84,307.25 513.2,296.18 512.52,284.89 511.79,273.35 511,261.56 510.15,249.5 509.23,237.16 508.22,224.54 507.13,211.61 506,198.36 504.85,184.77 503.57,170.84 502.16,156.53 500.6,141.83 498.88,126.71 497.05,111.16 494.96,95.14 492.65,78.63 490.09,61.59 487.25,44"/>
<polyline points="557.95,690 557.9,684.61 557.86,679.16 557.82,673.66 557.79,668.1 557.76,662.48 557.73,656.8 557.73,651.06 557.71,645.26 557.7,639.4 557.7,633.47 557.7,627.47 557.7,621.41 557.71,615.28 557.73,609.07 557.74,602.8 557.84,596.45 557.94,590.02 558.04,583.52 558.15,576.94 558.26,570.27 558.37,563.52 558.49,556.69 558.61,549.76 558.73,542.75 558.85,535.64 558.98,528.44 559.11,521.14 559.28,513.74 559.42,506.23 559.56,498.62 559.57,490.9 559.59,483.07 559.6,475.12 559.62,467.05 559.63,458.86 559.65,450.54 559.66,442.09 559.68,433.51 559.7,424.78 559.76,415.91 559.71,406.89 559.66,397.72 559.63,388.39 559.6,378.89 559.58,369.23 559.57,359.38 559.54,349.35 559.52,339.13 559.51,328.71 559.51,318.09 559.39,307.25 559.27,296.18 559.15,284.89 559.02,273.35 558.88,261.56 558.74,249.5 558.58,237.16 558.4,224.54 558.21,211.61 557.99,198.36 558.02,184.77 558.01,170.84 557.97,156.53 557.87,141.83 557.71,126.71 557.49,111.16 557.18,95.14 556.8,78.63 556.28,61.59 555.64,44"/>
<polyline points="590.9,690 590.95,684.61 591.01,679.16 591.08,673.66 591.15,668.1 591.22,662.48 591.3,656.8 591.39,651.06 591.49,645.26 591.6,639.4 591.7,633.47 591.82,627.47 591.94,621.41 592.06,615.28 592.2,609.07 592.34,602.8 592.55,596.45 592.77,590.02 593,583.52 593.24,576.94 593.48,570.27 593.73,563.52 593.99,556.69 594.25,549.76 594.52,542.75 594.8,535.64 595.09,528.44 595.39,521.14 595.69,513.74 596.04,506.23 596.36,498.62 596.58,490.9 596.82,483.07 597.06,475.12 597.31,467.05 597.57,458.86 597.85,450.54 598.13,442.09 598.43,433.51 598.74,424.78 599.06,415.91 599.29,406.89 599.54,397.72 599.8,388.39 600.07,378.89 600.35,369.23 600.65,359.38 600.97,349.35 601.29,339.13 601.63,328.71 601.98,318.09 602.3,307.25 602.67,296.18 603.08,284.89 603.51,273.35 603.96,261.56 604.45,249.5 604.96,237.16 605.5,224.54 606.06,211.61 606.65,198.36 607.47,184.77 608.31,170.84 609.18,156.53 610.07,141.83 610.97,126.71 611.9,111.16 612.84,95.14 613.79,78.63 614.75,61.59 615.7,44"/>
</g>
<g stroke="#F0008C" stroke-width="1.4" stroke-dasharray="1.8,6.2">
<polyline points="214.42,690 217.63,676.42 220.92,662.48 224.31,648.17 227.79,633.47 231.38,618.35 235.08,602.8 238.9,586.78 242.85,570.27 246.92,553.24 251.14,535.64 255.51,517.45 260.05,498.62 264.76,479.11 269.65,458.86 274.76,437.82 280.08,415.91"/>
<polyline points="270.75,690 273.8,676.42 276.94,662.48 280.16,648.17 283.49,633.47 286.91,618.35 290.44,602.8 294.08,586.78 297.85,570.27 301.74,553.24 305.77,535.64 309.95,517.45 314.28,498.62 318.78,479.11 323.47,458.86 328.35,437.82 333.44,415.91"/>
<polyline points="305.65,690 308.61,676.42 311.65,662.48 314.77,648.17 317.99,633.47 321.31,618.35 324.73,602.8 328.26,586.78 331.91,570.27 335.68,553.24 339.59,535.64 343.65,517.45 347.85,498.62 352.22,479.11 356.77,458.86 361.51,437.82 366.46,415.91"/>
<polyline points="331.35,690 334.23,676.42 337.19,662.48 340.24,648.17 343.38,633.47 346.62,618.35 349.96,602.8 353.41,586.78 356.97,570.27 360.66,553.24 364.48,535.64 368.43,517.45 372.54,498.62 376.82,479.11 381.26,458.86 385.9,437.82 390.74,415.91"/>
<polyline points="369.25,690 371.93,676.42 374.69,662.48 377.53,648.17 380.51,633.47 383.62,618.35 386.84,602.8 390.16,586.78 393.6,570.27 397.16,553.24 400.84,535.64 404.66,517.45 408.62,498.62 412.75,479.11 417.04,458.86 421.52,437.82 426.2,415.91"/>
<polyline points="397.95,690 400.55,676.42 403.22,662.48 405.97,648.17 408.81,633.47 411.73,618.35 414.75,602.8 417.87,586.78 421.1,570.27 424.44,553.24 427.9,535.64 431.49,517.45 435.22,498.62 439.17,479.11 443.35,458.86 447.71,437.82 452.27,415.91"/>
<polyline points="420.81,690 423.34,676.42 425.94,662.48 428.62,648.17 431.38,633.47 434.23,618.35 437.18,602.8 440.22,586.78 443.36,570.27 446.62,553.24 450,535.64 453.5,517.45 457.15,498.62 460.94,479.11 464.89,458.86 469.01,437.82 473.32,415.91"/>
<polyline points="463.7,690 466.09,676.42 468.56,662.48 471.1,648.17 473.73,633.47 476.43,618.35 479.23,602.8 482.12,586.78 485.11,570.27 488.21,553.24 491.43,535.64 494.77,517.45 498.24,498.62 501.85,479.11 505.62,458.86 509.55,437.82 513.67,415.91"/>
<polyline points="495.16,690 497.46,676.42 499.82,662.48 502.26,648.17 504.78,633.47 507.38,618.35 510.07,602.8 512.84,586.78 515.72,570.27 518.7,553.24 521.8,535.64 525.01,517.45 528.36,498.62 531.84,479.11 535.47,458.86 539.26,437.82 543.24,415.91"/>
<polyline points="520.13,690 522.35,676.42 524.63,662.48 526.99,648.17 529.42,633.47 531.94,618.35 534.53,602.8 537.22,586.78 540.01,570.27 542.89,553.24 545.89,535.64 549,517.45 552.24,498.62 555.62,479.11 559.14,458.86 562.82,437.82 566.68,415.91"/>
<polyline points="540.88,690 543.03,676.42 545.25,662.48 547.54,648.17 549.9,633.47 552.34,618.35 554.86,602.8 557.47,586.78 560.18,570.27 562.99,553.24 565.9,535.64 568.93,517.45 572.08,498.62 575.37,479.11 578.8,458.86 582.39,437.82 586.14,415.91"/>
<polyline points="558.65,690 560.74,676.42 562.9,662.48 565.13,648.17 567.43,633.47 569.81,618.35 572.27,602.8 574.81,586.78 577.45,570.27 580.19,553.24 583.03,535.64 585.99,517.45 589.07,498.62 592.28,479.11 595.63,458.86 599.13,437.82 602.8,415.91"/>
<polyline points="574.19,690 576.24,676.42 578.34,662.48 580.52,648.17 582.76,633.47 585.09,618.35 587.49,602.8 589.98,586.78 592.56,570.27 595.23,553.24 598.01,535.64 600.91,517.45 603.92,498.62 607.06,479.11 610.34,458.86 613.77,437.82 617.37,415.91"/>
</g>
<g stroke="#000" stroke-width="1">
<line x1="63" y1="126.5" x2="590" y2="126.5"/>
<line x1="63" y1="198.5" x2="590" y2="198.5"/>
<line x1="63" y1="261.5" x2="590" y2="261.5"/>
<line x1="63" y1="318.5" x2="590" y2="318.5"/>
<line x1="63" y1="369.5" x2="590" y2="369.5"/>
<line x1="63" y1="415.5" x2="590" y2="415.5"/>
<line x1="63" y1="458.5" x2="590" y2="458.5"/>
<line x1="63" y1="498.5" x2="590" y2="498.5"/>
<line x1="63" y1="535.5" x2="590" y2="535.5"/>
<line x1="63" y1="570.5" x2="590" y2="570.5"/>
<line x1="63" y1="602.5" x2="590" y2="602.5"/>
<line x1="63" y1="633.5" x2="590" y2="633.5"/>
<line x1="63" y1="662.5" x2="590" y2="662.5"/>
</g>
</g>
<g stroke="#000" stroke-width="1">
<line x1="59" y1="44.5" x2="63" y2="44.5"/>
<line x1="59" y1="126.5" x2="63" y2="126.5"/>
<line x1="59" y1="198.5" x2="63" y2="198.5"/>
<line x1="59" y1="261.5" x2="63" y2="261.5"/>
<line x1="59" y1="318.5" x2="63" y2="318.5"/>
<line x1="59" y1="369.5" x2="63" y2="369.5"/>
<line x1="59" y1="415.5" x2="63" y2="415.5"/>
<line x1="59" y1="458.5" x2="63" y2="458.5"/>
<line x1="59" y1="498.5" x2="63" y2="498.5"/>
<line x1="59" y1="535.5" x2="63" y2="535.5"/>
<line x1="59" y1="570.5" x2="63" y2="570.5"/>
<line x1="59" y1="602.5" x2="63" y2="602.5"/>
<line x1="59" y1="633.5" x2="63" y2="633.5"/>
<line x1="59" y1="662.5" x2="63" y2="662.5"/>
<line x1="59" y1="689.5" x2="63" y2="689.5"/>
</g>
<text transform="translate(279.73,411.8) scale(1.12,1)" font-size="11.5" fill="#F0008C">1</text>
<text transform="translate(333.94,411.8) scale(1.12,1)" font-size="11.5" fill="#F0008C">2</text>
<text transform="translate(367.25,411.8) scale(1.12,1)" font-size="11.5" fill="#F0008C">3</text>
<text transform="translate(392.14,411.8) scale(1.12,1)" font-size="11.5" fill="#F0008C">4</text>
<text transform="translate(427.78,411.8) scale(1.12,1)" font-size="11.5" fill="#F0008C">6</text>
<text transform="translate(454.32,411.8) scale(1.12,1)" font-size="11.5" fill="#F0008C">8</text>
<text transform="translate(476.28,411.8) scale(1.12,1)" font-size="11.5" fill="#F0008C">10</text>
<text transform="translate(516.91,411.8) scale(1.12,1)" font-size="11.5" fill="#F0008C">15</text>
<text transform="translate(545.96,411.8) scale(1.12,1)" font-size="11.5" fill="#F0008C">20</text>
<text transform="translate(569.99,411.8) scale(1.12,1)" font-size="11.5" fill="#F0008C">25</text>
<g fill="none" stroke-linejoin="round" stroke-linecap="butt" shape-rendering="crispEdges">
<polyline stroke="#FF2828" stroke-width="2" points="254.5,44 279.2,126.6 298.5,190 301.4,198 305.2,228.2 309.1,261.3 320.5,318.4 323.8,334.8 327.6,357.8 330.5,369.4 337.1,386.4 342.9,399.8 348.6,415.1 353.4,434.2 355.6,440 359.4,458.5 364.2,474.4 369.9,498.3 373.8,516.4 377.2,535.2 378.5,552.7 380.4,570.5 382.9,602.5 384.3,614.6 388,633.3 389.3,640 392.8,662 396.6,677 399.8,689.5"/>
<polyline stroke="#0D1FFF" stroke-width="2" points="192.9,44 187.5,126.6 179.1,190 178.7,198 181,207 188.7,234 195.4,261.3 198.2,285.5 200.3,318.4 209.1,323.4 228.2,338.7 247.3,354.9 265.5,368.3 272.2,380.7 281.7,396 289.4,415.1 296.1,428.5 300.8,440 309.5,458.5 317.2,474.4 329.5,498.3 337,516.5 344.6,535.6 356,560 361.3,570.5 367.5,586.3 372,602.6 375.7,618.2 378.8,633.3 380.6,640 385.8,662 390.4,677 391,689.5"/>
<polyline stroke="#A0A0A0" stroke-width="2" points="204.9,49.2 233.3,126.6 258.4,190 261.3,198 284.2,261.3 301.4,304.7 308.5,325.3 316.1,348.2 321.9,369.4 329.5,390.3 336.2,415.1 342.9,434.2 344.1,440 348.5,458.5 354.7,478.2 359.4,498.3 366.1,535.2 371.9,558.5 374.9,570.5 379.4,591.6 381.8,602.5 387.1,633.3 388.2,640 392,662 394.8,677 395.5,688"/>
</g>
<rect x="386.5" y="44" width="203.5" height="94.5" fill="#fff" stroke="#000" stroke-width="1"/>
<line x1="390" y1="53" x2="410" y2="53" stroke="#FF2828" stroke-width="2"/>
<text transform="translate(419.16,58) scale(1.12,1)" font-size="15" fill="#000" letter-spacing="0.75">Temperature</text>
<line x1="390" y1="66" x2="410" y2="66" stroke="#0D1FFF" stroke-width="2"/>
<text transform="translate(418.16,71) scale(1.12,1)" font-size="15" fill="#000" letter-spacing="0.71">Dewpoint</text>
<line x1="390" y1="79" x2="410" y2="79" stroke="#A0A0A0" stroke-width="2"/>
<text transform="translate(418.16,84) scale(1.12,1)" font-size="15" fill="#000" letter-spacing="1.06">Parcel Trajectory</text>
<line x1="390" y1="92.5" x2="410" y2="92.5" stroke="#F08828" stroke-width="1"/>
<text transform="translate(418.16,97) scale(1.12,1)" font-size="15" fill="#000" letter-spacing="1.05">Dry Adiabat</text>
<line x1="390" y1="105.5" x2="410" y2="105.5" stroke="#00D700" stroke-width="1"/>
<text transform="translate(419.42,110) scale(1.12,1)" font-size="15" fill="#000" letter-spacing="0.79">Wet Adiabat</text>
<line x1="390" y1="118.5" x2="410" y2="118.5" stroke="#00A0FF" stroke-width="1"/>
<text transform="translate(417.99,123) scale(1.12,1)" font-size="15" fill="#000" letter-spacing="1.06">Isotherm</text>
<line x1="390" y1="131.5" x2="410" y2="131.5" stroke="#F0008C" stroke-width="1.5" stroke-dasharray="2,6.5"/>
<text transform="translate(418.16,136) scale(1.12,1)" font-size="15" fill="#000" letter-spacing="1.03">Mixing Ratio</text>
<line x1="587.5" y1="126.5" x2="589" y2="126.5" stroke="#000" stroke-width="1"/>
<rect x="63" y="44" width="527" height="646" fill="none" stroke="#000" stroke-width="2"/>
<text transform="translate(27.24,50) scale(1.12,1)" font-size="17" fill="#000" letter-spacing="-1.93">300</text>
<text transform="translate(27.24,132.71) scale(1.12,1)" font-size="17" fill="#000" letter-spacing="-1.93">350</text>
<text transform="translate(27.62,204.36) scale(1.12,1)" font-size="17" fill="#000" letter-spacing="-2.1">400</text>
<text transform="translate(27.62,267.56) scale(1.12,1)" font-size="17" fill="#000" letter-spacing="-2.1">450</text>
<text transform="translate(27.24,324.09) scale(1.12,1)" font-size="17" fill="#000" letter-spacing="-1.93">500</text>
<text transform="translate(27.24,375.23) scale(1.12,1)" font-size="17" fill="#000" letter-spacing="-1.93">550</text>
<text transform="translate(27.05,421.91) scale(1.12,1)" font-size="17" fill="#000" letter-spacing="-1.84">600</text>
<text transform="translate(27.05,464.86) scale(1.12,1)" font-size="17" fill="#000" letter-spacing="-1.84">650</text>
<text transform="translate(27.05,504.62) scale(1.12,1)" font-size="17" fill="#000" letter-spacing="-1.84">700</text>
<text transform="translate(27.05,541.64) scale(1.12,1)" font-size="17" fill="#000" letter-spacing="-1.84">750</text>
<text transform="translate(27.14,576.27) scale(1.12,1)" font-size="17" fill="#000" letter-spacing="-1.88">800</text>
<text transform="translate(27.14,608.8) scale(1.12,1)" font-size="17" fill="#000" letter-spacing="-1.88">850</text>
<text transform="translate(27.14,639.47) scale(1.12,1)" font-size="17" fill="#000" letter-spacing="-1.88">900</text>
<text transform="translate(27.14,668.48) scale(1.12,1)" font-size="17" fill="#000" letter-spacing="-1.88">950</text>
<text transform="translate(19.57,696) scale(1.12,1)" font-size="17" fill="#000" letter-spacing="-2.15">1000</text>
<text transform="translate(29.21,19.8) scale(1.12,1)" font-size="16.5" fill="#000" letter-spacing="-0.38">hPa</text>
<text transform="translate(107.05,709.5) scale(1.12,1)" font-size="17" fill="#000" letter-spacing="1.5">−30</text>
<text transform="translate(173.05,709.5) scale(1.12,1)" font-size="17" fill="#000" letter-spacing="1.67">−20</text>
<text transform="translate(238.65,709.5) scale(1.12,1)" font-size="17" fill="#000" letter-spacing="1.67">−10</text>
<text transform="translate(317.24,709.5) scale(1.12,1)" font-size="17" fill="#000">0</text>
<text transform="translate(378.57,709.5) scale(1.12,1)" font-size="17" fill="#000" letter-spacing="0.84">10</text>
<text transform="translate(442.45,709.5) scale(1.12,1)" font-size="17" fill="#000" letter-spacing="1.04">20</text>
<text transform="translate(508.84,709.5) scale(1.12,1)" font-size="17" fill="#000" letter-spacing="0.78">30</text>
<text transform="translate(575.32,709.5) scale(1.12,1)" font-size="17" fill="#000" letter-spacing="-0.27">40</text>
<text transform="translate(182.83,727.9) scale(1.12,1)" font-size="17.5" fill="#000" letter-spacing="2.36">Dewpoint / Temperature (°C)</text>
<text transform="translate(92.9,29) scale(1.12,1)" font-size="18" fill="#000" letter-spacing="2.2">43°37'N 13°22'E 119m ASL</text>
<text transform="translate(653.25,28.8) scale(1.1,1)" font-size="17.5" fill="#000" letter-spacing="2.4" font-weight="bold">19.03.2024 12GMT (Base: 12)</text>
<text transform="translate(595.74,20.1) scale(1.12,1)" font-size="16" fill="#000" letter-spacing="1.43">km</text>
<text transform="translate(595.9,40.9) scale(1.12,1)" font-size="15.5" fill="#000" letter-spacing="-1.01">ASL</text>
<g stroke="#000" stroke-width="1">
<line x1="591" y1="135.5" x2="597" y2="135.5"/>
<line x1="591" y1="212.5" x2="597" y2="212.5"/>
<line x1="591" y1="287.5" x2="597" y2="287.5"/>
<line x1="591" y1="360.1" x2="597" y2="360.1"/>
<line x1="591" y1="431.4" x2="597" y2="431.4"/>
<line x1="591" y1="499.2" x2="597" y2="499.2"/>
<line x1="591" y1="567.3" x2="597" y2="567.3"/>
<line x1="591" y1="633.4" x2="597" y2="633.4"/>
<line x1="591" y1="679.7" x2="601" y2="679.7"/>
</g>
<text transform="translate(600.17,141.5) scale(1.12,1)" font-size="16.5" fill="#000">8</text>
<text transform="translate(600.08,218.5) scale(1.12,1)" font-size="16.5" fill="#000">7</text>
<text transform="translate(600.08,293.5) scale(1.12,1)" font-size="16.5" fill="#000">6</text>
<text transform="translate(600.26,366.1) scale(1.12,1)" font-size="16.5" fill="#000">5</text>
<text transform="translate(600.63,437.4) scale(1.12,1)" font-size="16.5" fill="#000">4</text>
<text transform="translate(600.26,505.2) scale(1.12,1)" font-size="16.5" fill="#000">3</text>
<text transform="translate(600.08,573.3) scale(1.12,1)" font-size="16.5" fill="#000">2</text>
<text transform="translate(599.61,639.4) scale(1.12,1)" font-size="16.5" fill="#000">1</text>
<text transform="translate(608.2,685.2) scale(1.12,1)" font-size="14.5" fill="#000" letter-spacing="0.68">LCL</text>
<g transform="translate(629.6,508.2) rotate(-90)">
<text transform="translate(-1.52,0) scale(1.12,1)" font-size="17" fill="#000" letter-spacing="0.66">Mixing Ratio (g/kg)</text>
</g>
<line x1="681.5" y1="44" x2="681.5" y2="659" stroke="#000" stroke-width="1"/>
<g stroke="#FF3232" stroke-width="1.1" fill="none"><line x1="681.7" y1="44.3" x2="660.2" y2="18.2"/><polygon points="660.2,18.2 672.85,11.54 663.7,22.45" fill="#FF3232"/><line x1="665.29" y1="24.37" x2="675.71" y2="15.79"/><line x1="668.47" y1="28.23" x2="678.89" y2="19.65"/><line x1="671.64" y1="32.09" x2="676.66" y2="27.96"/></g>
<circle cx="681.7" cy="44.3" r="2.8" fill="#FF3232"/>
<g stroke="#FF3232" stroke-width="1.1" fill="none"><line x1="681.8" y1="198.4" x2="664.3" y2="170"/><polygon points="664.3,170 677.74,165.12 667.19,174.68" fill="#FF3232"/><line x1="668.5" y1="176.81" x2="679.99" y2="169.73"/><line x1="671.12" y1="181.07" x2="676.65" y2="177.66"/></g>
<circle cx="681.8" cy="198.4" r="2.8" fill="#FF3232"/>
<g stroke="#1A32FF" stroke-width="1.1" fill="none"><line x1="681.8" y1="317.9" x2="668.5" y2="290.9"/><line x1="668.5" y1="290.9" x2="680.61" y2="284.93"/><line x1="670.36" y1="294.67" x2="682.47" y2="288.7"/><line x1="672.21" y1="298.44" x2="684.32" y2="292.47"/><line x1="674.07" y1="302.2" x2="679.9" y2="299.33"/></g>
<circle cx="681.8" cy="317.9" r="2.8" fill="#1A32FF"/>
<g stroke="#1ED28C" stroke-width="1.1" fill="none"><line x1="681.7" y1="498.4" x2="693.9" y2="470.4"/><line x1="693.9" y1="470.4" x2="706.28" y2="475.79"/><line x1="692.06" y1="474.62" x2="704.44" y2="480.01"/></g>
<circle cx="681.7" cy="498.4" r="2.8" fill="#1ED28C"/>
<g stroke="#9BE22C" stroke-width="1.1" fill="none"><line x1="681.5" y1="602.3" x2="707.6" y2="585.4"/><line x1="707.6" y1="585.4" x2="714.94" y2="596.73"/></g>
<circle cx="681.5" cy="602.3" r="2.8" fill="#9BE22C"/>
<g stroke="#9BE22C" stroke-width="1.1" fill="none"><line x1="681.5" y1="633.4" x2="704.7" y2="611"/><line x1="704.7" y1="611" x2="714.08" y2="620.71"/></g>
<circle cx="681.5" cy="633.4" r="2.8" fill="#9BE22C"/>
<g stroke="#9BE22C" stroke-width="1.1" fill="none"><line x1="681.5" y1="647.6" x2="699.5" y2="623.6"/><line x1="699.5" y1="623.6" x2="710.3" y2="631.7"/></g>
<circle cx="681.5" cy="647.6" r="2.8" fill="#9BE22C"/>
<g stroke="#E1D228" fill="none"><line x1="681.5" y1="659" x2="681.5" y2="690" stroke-width="1.6"/><line x1="679.5" y1="660" x2="679.5" y2="668" stroke-width="1.1"/><line x1="681.5" y1="663.5" x2="688" y2="663.5" stroke-width="2"/></g>
<circle cx="681.6" cy="689.9" r="2.9" fill="#E1D228"/>
<rect x="727.5" y="44.5" width="181.5" height="171" fill="none" stroke="#000" stroke-width="2"/>
<g stroke="#000" stroke-width="1.1">
<line x1="727" y1="130.5" x2="910" y2="130.5"/>
<line x1="818.5" y1="44" x2="818.5" y2="216"/>
<line x1="810.5" y1="128" x2="810.5" y2="133"/>
<line x1="816" y1="123.5" x2="821" y2="123.5"/>
<line x1="826.5" y1="128" x2="826.5" y2="133"/>
<line x1="816" y1="137.5" x2="821" y2="137.5"/>
<line x1="803.5" y1="128" x2="803.5" y2="133"/>
<line x1="816" y1="116.5" x2="821" y2="116.5"/>
<line x1="833.5" y1="128" x2="833.5" y2="133"/>
<line x1="816" y1="144.5" x2="821" y2="144.5"/>
<line x1="795.5" y1="128" x2="795.5" y2="133"/>
<line x1="816" y1="108.5" x2="821" y2="108.5"/>
<line x1="841.5" y1="128" x2="841.5" y2="133"/>
<line x1="816" y1="152.5" x2="821" y2="152.5"/>
<line x1="788.5" y1="128" x2="788.5" y2="133"/>
<line x1="816" y1="101.5" x2="821" y2="101.5"/>
<line x1="848.5" y1="128" x2="848.5" y2="133"/>
<line x1="816" y1="159.5" x2="821" y2="159.5"/>
<line x1="780.5" y1="128" x2="780.5" y2="133"/>
<line x1="816" y1="94.5" x2="821" y2="94.5"/>
<line x1="856.5" y1="128" x2="856.5" y2="133"/>
<line x1="816" y1="166.5" x2="821" y2="166.5"/>
<line x1="773.5" y1="128" x2="773.5" y2="133"/>
<line x1="816" y1="87.5" x2="821" y2="87.5"/>
<line x1="863.5" y1="128" x2="863.5" y2="133"/>
<line x1="816" y1="173.5" x2="821" y2="173.5"/>
<line x1="765.5" y1="128" x2="765.5" y2="133"/>
<line x1="816" y1="79.5" x2="821" y2="79.5"/>
<line x1="871.5" y1="128" x2="871.5" y2="133"/>
<line x1="816" y1="181.5" x2="821" y2="181.5"/>
<line x1="758.5" y1="128" x2="758.5" y2="133"/>
<line x1="816" y1="72.5" x2="821" y2="72.5"/>
<line x1="878.5" y1="128" x2="878.5" y2="133"/>
<line x1="816" y1="188.5" x2="821" y2="188.5"/>
<line x1="750.5" y1="128" x2="750.5" y2="133"/>
<line x1="816" y1="65.5" x2="821" y2="65.5"/>
<line x1="886.5" y1="128" x2="886.5" y2="133"/>
<line x1="816" y1="195.5" x2="821" y2="195.5"/>
<line x1="743.5" y1="128" x2="743.5" y2="133"/>
<line x1="816" y1="58.5" x2="821" y2="58.5"/>
<line x1="894.5" y1="128" x2="894.5" y2="133"/>
<line x1="816" y1="202.5" x2="821" y2="202.5"/>
<line x1="735.5" y1="128" x2="735.5" y2="133"/>
<line x1="816" y1="51.5" x2="821" y2="51.5"/>
<line x1="901.5" y1="128" x2="901.5" y2="133"/>
<line x1="816" y1="209.5" x2="821" y2="209.5"/>
</g>
<g fill="none" stroke="#A0A0A0" stroke-width="1">
<ellipse cx="818.5" cy="130.5" rx="30.28" ry="28.68"/>
<ellipse cx="818.5" cy="130.5" rx="60.56" ry="57.36"/>
<ellipse cx="818.5" cy="130.5" rx="90.84" ry="86.04"/>
</g>
<g fill="#A0A0A0" font-size="12">
<text transform="translate(797.8,150.3) rotate(-45)" text-anchor="middle" dy="4.3">40</text>
<text transform="translate(774.9,171.3) rotate(-45)" text-anchor="middle" dy="4.3">80</text>
<text transform="translate(754.3,190.4) rotate(-45)" text-anchor="middle" dy="4.3">120</text>
</g>
<text transform="translate(732.09,56.9) scale(1.12,1)" font-size="12.5" fill="#000000" letter-spacing="1.9">kt</text>
<polygon fill="#000" points="810.2,135.3 813,135.3 815.5,136.5 820.7,137.2 820.7,138.8 818.5,140.3 815.2,142.8 813.6,145.3 812,144.2 811.2,141.5 810.2,137.8"/>
<circle cx="818.3" cy="133.2" r="2.4" fill="#000"/>
<polyline fill="none" stroke="#000" stroke-width="1.3" points="813.6,145.2 818.3,147.8 823,150.1 828.1,152.4 830.7,155 834.4,159.7 839,165.4 843.2,170"/>
<circle cx="844.2" cy="172.4" r="2.7" fill="#000"/>
<polyline fill="none" stroke="#000" stroke-width="1" points="727.5,300.5 727.5,233.5 927.5,233.5 927.5,300.5"/>
<polyline fill="none" stroke="#000" stroke-width="1" points="727.5,455.7 727.5,302.5 927.5,302.5 927.5,455.7"/>
<polyline fill="none" stroke="#000" stroke-width="1" points="727.5,588.4 727.5,458.5 927.5,458.5 927.5,588.4"/>
<rect x="727.5" y="591.5" width="200" height="111" fill="none" stroke="#000" stroke-width="1"/>
<text transform="translate(732.44,252.9) scale(1.12,1)" font-size="16.3" fill="#000">K</text>
<text transform="translate(873.69,252.9) scale(1.12,1)" font-size="16.3" fill="#000" letter-spacing="-0.47">21</text>
<text transform="translate(731.83,274) scale(1.12,1)" font-size="16.3" fill="#000" letter-spacing="0.64">Totals Totals</text>
<text transform="translate(873.87,274) scale(1.12,1)" font-size="16.3" fill="#000" letter-spacing="-0.8">50</text>
<text transform="translate(731.94,295.2) scale(1.12,1)" font-size="16.3" fill="#000" letter-spacing="1.18">PW (cm)</text>
<text transform="translate(873.23,295.2) scale(1.12,1)" font-size="16.3" fill="#000" letter-spacing="1.08">1.71</text>
<text transform="translate(786.38,321.8) scale(1.12,1)" font-size="16.3" fill="#000" letter-spacing="0.81">Surface</text>
<text transform="translate(731.83,343) scale(1.12,1)" font-size="16.3" fill="#000" letter-spacing="0.94">Temp (°C)</text>
<text transform="translate(873.23,343) scale(1.12,1)" font-size="16.3" fill="#000" letter-spacing="1.2">11.3</text>
<text transform="translate(731.94,364.6) scale(1.12,1)" font-size="16.3" fill="#000" letter-spacing="0.71">Dewp (°C)</text>
<text transform="translate(873.23,364.6) scale(1.12,1)" font-size="16.3" fill="#000" letter-spacing="-0.23">10</text>
<text x="732.9" y="385.6" font-size="15" font-weight="bold" font-style="italic">θ</text>
<text x="739.6" y="386.6" font-size="9">E</text>
<text transform="translate(747.9,385.6) scale(1.12,1)" font-size="16.3" fill="#000" letter-spacing="1.4">(K)</text>
<text transform="translate(873.87,385.6) scale(1.12,1)" font-size="16.3" fill="#000" letter-spacing="0.65">305</text>
<text transform="translate(731.34,407.8) scale(1.12,1)" font-size="16.3" fill="#000" letter-spacing="0.86">Lifted Index</text>
<text transform="translate(873.87,407.8) scale(1.12,1)" font-size="16.3" fill="#000">3</text>
<text transform="translate(732.49,428.8) scale(1.12,1)" font-size="16.3" fill="#000" letter-spacing="0.44">CAPE (J)</text>
<text transform="translate(873.87,428.8) scale(1.12,1)" font-size="16.3" fill="#000">0</text>
<text transform="translate(732.49,449.8) scale(1.12,1)" font-size="16.3" fill="#000" letter-spacing="0.82">CIN (J)</text>
<text transform="translate(873.23,449.8) scale(1.12,1)" font-size="16.3" fill="#000">1</text>
<text transform="translate(751.54,476) scale(1.12,1)" font-size="16.3" fill="#000" letter-spacing="0.83">Most Unstable</text>
<text transform="translate(732.14,497.6) scale(1.12,1)" font-size="16.3" fill="#000" letter-spacing="1.12">Pressure (mb)</text>
<text transform="translate(873.23,497.6) scale(1.12,1)" font-size="16.3" fill="#000" letter-spacing="1.23">1002</text>
<text x="733.1" y="519.6" font-size="15" font-weight="bold" font-style="italic">θ</text>
<text x="739.8" y="520.6" font-size="9">E</text>
<text transform="translate(757.9,519.6) scale(1.12,1)" font-size="16.3" fill="#000" letter-spacing="1.49">(K)</text>
<text transform="translate(873.87,519.6) scale(1.12,1)" font-size="16.3" fill="#000" letter-spacing="0.65">305</text>
<text transform="translate(731.34,540.4) scale(1.12,1)" font-size="16.3" fill="#000" letter-spacing="0.86">Lifted Index</text>
<text transform="translate(873.87,540.4) scale(1.12,1)" font-size="16.3" fill="#000">3</text>
<text transform="translate(732.49,562) scale(1.12,1)" font-size="16.3" fill="#000" letter-spacing="0.39">CAPE (J)</text>
<text transform="translate(873.87,562) scale(1.12,1)" font-size="16.3" fill="#000">0</text>
<text transform="translate(732.49,583.6) scale(1.12,1)" font-size="16.3" fill="#000" letter-spacing="0.79">CIN (J)</text>
<text transform="translate(873.23,583.6) scale(1.12,1)" font-size="16.3" fill="#000">1</text>
<text transform="translate(770.14,610) scale(1.12,1)" font-size="16.3" fill="#000" letter-spacing="0.58">Hodograph</text>
<text transform="translate(731.54,631.6) scale(1.12,1)" font-size="16.3" fill="#000" letter-spacing="-1.59">EH</text>
<text transform="translate(873.69,631.6) scale(1.12,1)" font-size="16.3" fill="#000" letter-spacing="2.33">−19</text>
<text transform="translate(732.18,653.6) scale(1.12,1)" font-size="16.3" fill="#000" letter-spacing="-1.47">SREH</text>
<text transform="translate(873.69,653.6) scale(1.12,1)" font-size="16.3" fill="#000" letter-spacing="2.29">−35</text>
<text transform="translate(732.18,675) scale(1.12,1)" font-size="16.3" fill="#000" letter-spacing="0.26">StmDir</text>
<text transform="translate(873.23,675) scale(1.12,1)" font-size="16.3" fill="#000" letter-spacing="1.2">16°</text>
<text transform="translate(732.18,696) scale(1.12,1)" font-size="16.3" fill="#000" letter-spacing="1.28">StmSpd (kt)</text>
<text transform="translate(873.69,696) scale(1.12,1)" font-size="16.3" fill="#000" letter-spacing="0.61">20</text>
<text x="714.9" y="728.6" font-size="18.5" textLength="17.4" lengthAdjust="spacingAndGlyphs" transform="translate(-0.6,0)">©</text>
<text transform="translate(738.39,727.8) scale(1.1,1)" font-size="16.5" fill="#000" letter-spacing="1.91" font-weight="bold">weatheronline.co.uk</text>
</svg></body></html>
